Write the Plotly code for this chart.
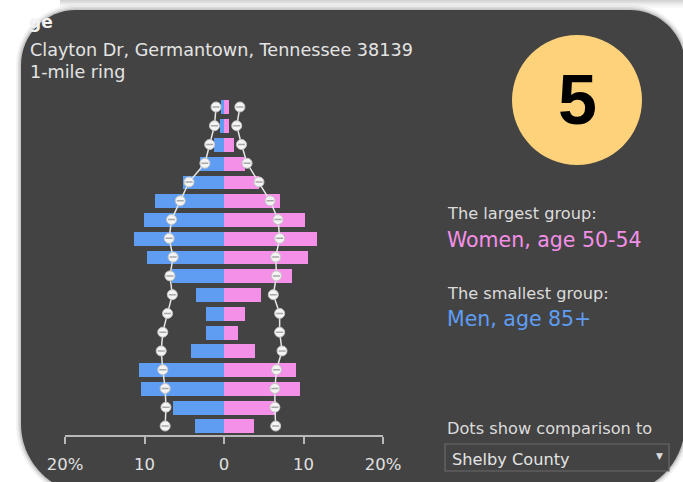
import plotly.graph_objects as go

W, H = 683, 482

age_groups = ["0-4", "5-9", "10-14", "15-19", "20-24", "25-29", "30-34", "35-39",
              "40-44", "45-49", "50-54", "55-59", "60-64", "65-69", "70-74",
              "75-79", "80-84", "85+"]
men_pct = [3.6, 6.4, 10.5, 10.7, 4.2, 2.3, 2.3, 3.5, 6.5, 9.7, 11.3, 10.1, 8.7, 5.2,
           3.0, 1.3, 0.5, 0.4]
women_pct = [3.8, 6.6, 9.6, 9.1, 3.9, 1.7, 2.6, 4.7, 8.6, 10.6, 11.7, 10.2, 7.1, 4.4,
             2.7, 1.3, 0.6, 0.6]
men_county = [7.4, 7.3, 7.4, 7.7, 7.9, 7.7, 7.1, 6.5, 6.8, 6.4, 6.9, 6.6, 5.5, 4.4,
              2.4, 1.8, 1.2, 1.0]
women_county = [6.5, 6.4, 6.4, 6.6, 7.3, 7.0, 7.0, 6.2, 6.6, 6.5, 7.0, 6.8, 5.8, 4.4,
                2.9, 2.2, 1.6, 2.0]
tick_vals = [-20, -10, 0, 10, 20]
tick_text = ["20%", "10", "0", "10", "20%"]

MEN = "#5f9df3"
WOMEN = "#f590e8"
CARD = "#434343"

def X(x):
    return x / W

def Y(y):
    return 1 - y / H

def rounded_path(l, t, r, b, rtl, rtr, rbr, rbl):
    k = 0.4477
    pts = []
    pts.append(f"M {X(l + rtl)},{Y(t)}")
    pts.append(f"L {X(r - rtr)},{Y(t)}")
    pts.append(f"C {X(r - rtr * k)},{Y(t)} {X(r)},{Y(t + rtr * k)} {X(r)},{Y(t + rtr)}")
    pts.append(f"L {X(r)},{Y(b - rbr)}")
    pts.append(f"C {X(r)},{Y(b - rbr * k)} {X(r - rbr * k)},{Y(b)} {X(r - rbr)},{Y(b)}")
    pts.append(f"L {X(l + rbl)},{Y(b)}")
    pts.append(f"C {X(l + rbl * k)},{Y(b)} {X(l)},{Y(b - rbl * k)} {X(l)},{Y(b - rbl)}")
    pts.append(f"L {X(l)},{Y(t + rtl)}")
    pts.append(f"C {X(l)},{Y(t + rtl * k)} {X(l + rtl * k)},{Y(t)} {X(l + rtl)},{Y(t)}")
    pts.append("Z")
    return " ".join(pts)

ypos = list(range(len(age_groups)))

fig = go.Figure()
fig.add_trace(go.Bar(y=ypos, x=[-v for v in men_pct], orientation="h",
                     marker=dict(color=MEN, line=dict(width=0)), width=0.74,
                     name="Men", hoverinfo="skip"))
fig.add_trace(go.Bar(y=ypos, x=women_pct, orientation="h",
                     marker=dict(color=WOMEN, line=dict(width=0)), width=0.74,
                     name="Women", hoverinfo="skip"))
for vals, sign in ((men_county, -1), (women_county, 1)):
    xs = [sign * v for v in vals]
    fig.add_trace(go.Scatter(x=xs, y=ypos, mode="lines+markers",
                             line=dict(color="#e6e6e6", width=1.5),
                             marker=dict(size=10, color="#f4f4f4",
                                         line=dict(color="#c4c4c4", width=1)),
                             hoverinfo="skip"))
    fig.add_trace(go.Scatter(x=xs, y=ypos, mode="markers",
                             marker=dict(symbol="line-ew", size=5,
                                         line=dict(color="#a8a8a8", width=1.5)),
                             hoverinfo="skip"))

shapes = []
# top shadow strip from card above
for i, op in enumerate([0.35, 0.25, 0.16, 0.09, 0.04]):
    shapes.append(dict(type="rect", xref="paper", yref="paper",
                       x0=X(60), x1=X(683), y0=Y(i * 1.6), y1=Y((i + 1) * 1.6),
                       fillcolor="#808080", opacity=op, line=dict(width=0), layer="below"))
# card shadow
for grow, op in ((5, 0.08), (3, 0.12), (1.5, 0.18)):
    shapes.append(dict(type="path", xref="paper", yref="paper",
                       path=rounded_path(21 - grow, 10 - grow, 685 + grow, 494 + grow,
                                         55 + grow, 55 + grow, 70 + grow, 70 + grow),
                       fillcolor="#555555", opacity=op, line=dict(width=0), layer="below"))
shapes.append(dict(type="path", xref="paper", yref="paper",
                   path=rounded_path(21, 10, 685, 494, 55, 55, 70, 70),
                   fillcolor=CARD, line=dict(width=0), layer="below"))
# badge circle
shapes.append(dict(type="circle", xref="paper", yref="paper",
                   x0=X(512), x1=X(642), y0=Y(35), y1=Y(165),
                   fillcolor="#fdd27a", line=dict(width=0), layer="below"))
# dropdown box
shapes.append(dict(type="rect", xref="paper", yref="paper",
                   x0=X(445), x1=X(669), y0=Y(444), y1=Y(471),
                   fillcolor=CARD, line=dict(color="#6a6a6a", width=1.2)))

FONT = "DejaVu Sans"
ann = []
def txt(x, y, s, size, color, bold=False, anchor="left", family=FONT):
    ann.append(dict(xref="paper", yref="paper", x=X(x), y=Y(y), text=(f"<b>{s}</b>" if bold else s),
                    showarrow=False, xanchor=anchor, yanchor="middle",
                    font=dict(family=family, size=size, color=color)))

txt(27, 22, "ge", 17, "#f2f2f2", bold=True)
txt(28, 50, "Clayton Dr, Germantown, Tennessee 38139", 17.6, "#e4e4e4")
txt(28, 72, "1-mile ring", 17.6, "#e4e4e4")
txt(577, 100, "5", 70, "#000000", bold=True, anchor="center", family="Liberation Sans")
txt(445, 213, "The largest group:", 16.2, "#dcdcdc")
txt(445, 240, "Women, age 50-54", 20.5, WOMEN)
txt(445, 293, "The smallest group:", 16.2, "#dcdcdc")
txt(445, 319, "Men, age 85+", 20.5, MEN)
txt(445, 428, "Dots show comparison to", 16.2, "#dcdcdc")
txt(450, 459, "Shelby County", 16.2, "#e4e4e4")
txt(659, 456, "▼", 9, "#dcdcdc", anchor="center")

fig.update_layout(
    template="none",
    width=W, height=H, autosize=False,
    margin=dict(l=0, r=0, t=0, b=0, pad=0),
    paper_bgcolor="#ffffff", plot_bgcolor="rgba(0,0,0,0)",
    barmode="overlay", bargap=0, showlegend=False,
    shapes=shapes, annotations=ann,
    xaxis=dict(domain=[X(65), X(383)], range=[-20, 20], tickvals=tick_vals,
               ticktext=tick_text, showgrid=False, zeroline=False, automargin=False,
               showline=True, linecolor="#b8b8b8", linewidth=2,
               ticks="outside", ticklen=7, tickwidth=2, tickcolor="#b8b8b8",
               ticklabelstandoff=6,
               tickfont=dict(family=FONT, size=16.5, color="#e0e0e0"), fixedrange=True),
    yaxis=dict(domain=[Y(435.4), Y(97.6)], range=[-0.5, 17.5], showticklabels=False,
               automargin=False,
               showgrid=False, zeroline=False, showline=False, ticks="", fixedrange=True),
)

fig.write_html("out.html", config={"displayModeBar": False},
               post_script="document.body.style.margin='0';")
